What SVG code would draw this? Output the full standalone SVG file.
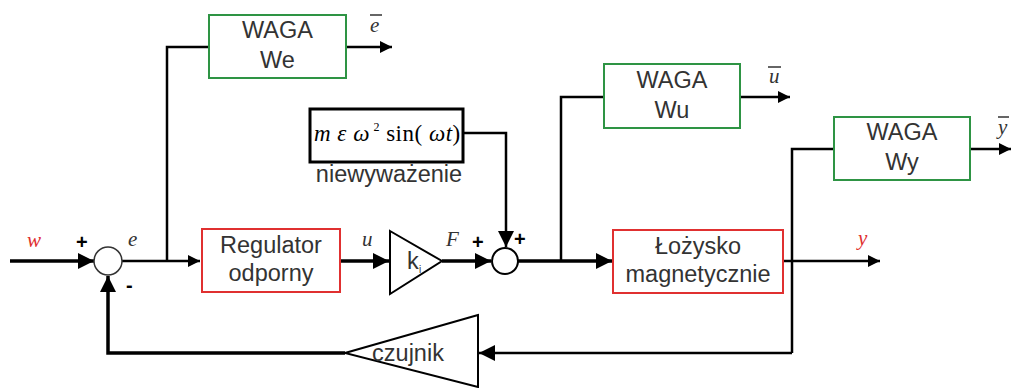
<svg xmlns="http://www.w3.org/2000/svg" width="1011" height="388" viewBox="0 0 1011 388">
<defs>
<marker id="ah" viewBox="0 0 10 10" refX="10" refY="5" markerWidth="14" markerHeight="12" markerUnits="userSpaceOnUse" orient="auto"><path d="M0,0 L10,5 L0,10 Z" fill="#000"/></marker>
<marker id="ahb" viewBox="0 0 10 10" refX="10" refY="5" markerWidth="16" markerHeight="16" markerUnits="userSpaceOnUse" orient="auto"><path d="M0,0 L10,5 L0,10 Z" fill="#000"/></marker>
</defs>
<style>
.box{fill:#fff;stroke-width:2}
.g{stroke:#2e9444}
.r{stroke:#e03030}
.t{font-family:"Liberation Sans",Arial,sans-serif;font-size:23.5px;fill:#333;text-anchor:middle}
.m{font-family:"Liberation Serif","Times New Roman",serif;font-style:italic;font-size:21px;fill:#333}
.red{fill:#e03030}
.s{font-family:"Liberation Sans",Arial,sans-serif;font-size:20px;font-weight:bold;fill:#000}
.w{fill:none;stroke:#000;stroke-width:2.5}
.wt{fill:none;stroke:#000;stroke-width:3.5}
</style>
<g id="connectors">
<path class="wt" d="M10,261 H94" marker-end="url(#ahb)"/>
<path class="w" d="M122,261 H200" marker-end="url(#ah)"/>
<path class="w" d="M167,261 V47 H209"/>
<path class="w" d="M346,47 H392" marker-end="url(#ah)"/>
<path class="wt" d="M340,261 H389" marker-end="url(#ahb)"/>
<path class="wt" d="M442,261 H491" marker-end="url(#ahb)"/>
<path class="w" d="M463,133 H506 V247" marker-end="url(#ahb)"/>
<path class="wt" d="M518,261 H612" marker-end="url(#ahb)"/>
<path class="w" d="M561,261 V97 H604"/>
<path class="w" d="M740,97 H790" marker-end="url(#ah)"/>
<path class="w" d="M783,261 H880" marker-end="url(#ah)"/>
<path class="w" d="M792,353 V149 H834"/>
<path class="w" d="M970,149 H1011" marker-end="url(#ah)"/>
<path class="w" d="M792,353 H479" marker-end="url(#ahb)"/>
<path class="wt" d="M345,353 H108 V276" marker-end="url(#ahb)"/>
</g>
<g id="sum1"><circle cx="108" cy="261" r="14" fill="#fff" stroke="#333" stroke-width="1.5"/></g>
<g id="sum2"><circle cx="505" cy="261" r="13" fill="#fff" stroke="#000" stroke-width="2"/></g>
<g id="wagaWe"><rect class="box g" x="209" y="15" width="137" height="63"/><text class="t" x="277.5" y="38">WAGA</text><text class="t" x="277.5" y="68">We</text></g>
<g id="wagaWu"><rect class="box g" x="604" y="64" width="136" height="64"/><text class="t" x="672" y="88">WAGA</text><text class="t" x="672" y="118">Wu</text></g>
<g id="wagaWy"><rect class="box g" x="834" y="117" width="136" height="63"/><text class="t" x="902" y="140">WAGA</text><text class="t" x="902" y="170">Wy</text></g>
<g id="regulator"><rect class="box r" x="202" y="229" width="138" height="63"/><text class="t" x="271" y="253">Regulator</text><text class="t" x="271" y="281">odporny</text></g>
<g id="lozysko"><rect class="box r" stroke-width="1.5" x="613" y="230" width="170" height="63"/><text class="t" x="698" y="254">Łożysko</text><text class="t" x="698" y="282">magnetycznie</text></g>
<g id="ki"><path d="M390,231 L442,261 L390,294 Z" fill="#fff" stroke="#000" stroke-width="2"/><text class="t" x="407" y="269" style="text-anchor:start">k</text><text class="t" x="419" y="273" style="font-size:10px;text-anchor:start">i</text></g>
<g id="czujnik"><path d="M478,315 L345,353 L478,387 Z" fill="#fff" stroke="#000" stroke-width="2"/><text class="t" x="408" y="361">czujnik</text></g>
<g id="niewywazenie"><rect x="310" y="109" width="153" height="53" fill="#fff" stroke="#000" stroke-width="3"/>
<text class="m" x="314" y="141" style="fill:#000;font-size:23px;letter-spacing:0.5px">m ε ω<tspan dy="-10" style="font-size:12px;font-style:normal"> 2</tspan><tspan dy="10" style="font-style:normal"> sin(</tspan> ω<tspan>t</tspan><tspan style="font-style:normal">)</tspan></text>
<text class="t" x="389" y="182">niewyważenie</text></g>
<g id="labels">
<text class="m red" x="27" y="247">w</text>
<text class="s" x="76" y="249">+</text>
<text class="m" x="128" y="246">e</text>
<text class="s" x="126" y="292">-</text>
<text class="m" x="362" y="246">u</text>
<text class="m" x="446" y="246">F</text>
<text class="s" x="472" y="249">+</text>
<text class="s" x="514" y="246">+</text>
<text class="m red" x="858" y="245">y</text>
<text class="m" x="370" y="32">e</text><path d="M370,15 H382" stroke="#333" stroke-width="1.5"/>
<text class="m" x="769" y="83">u</text><path d="M768,67 H781" stroke="#333" stroke-width="1.5"/>
<text class="m" x="998" y="134">y</text><path d="M998,117 H1009" stroke="#333" stroke-width="1.5"/>
</g>
</svg>
